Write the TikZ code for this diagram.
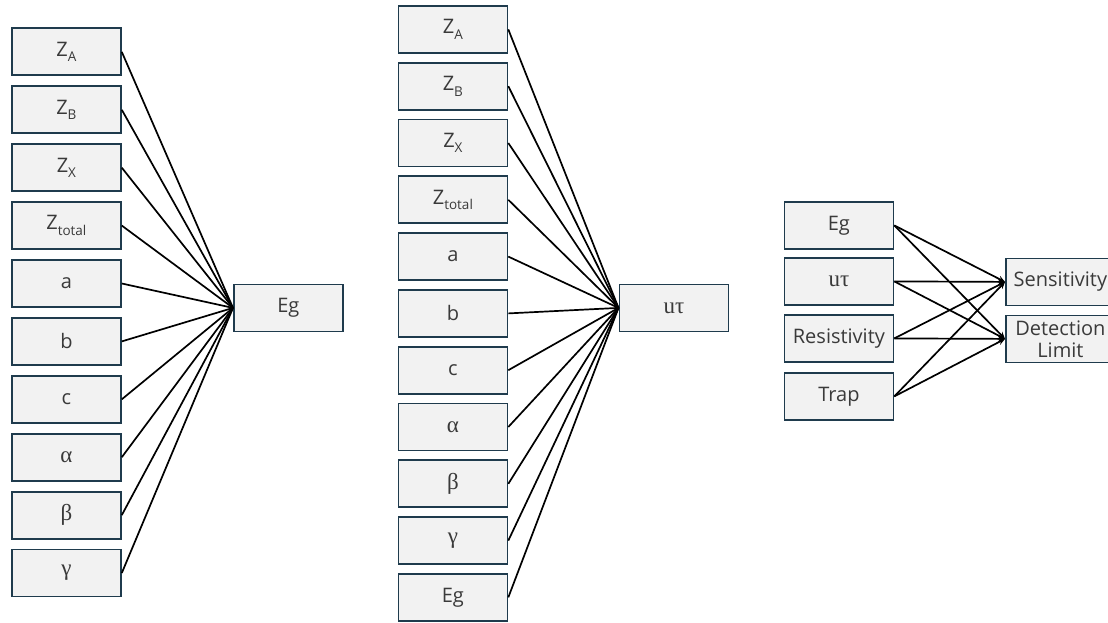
\documentclass[tikz,border=0pt]{standalone}
\usepackage{fontspec}
\setmainfont{Open Sans}
\newfontfamily\grkfont{Liberation Serif}
\usetikzlibrary{arrows.meta}
\definecolor{boxfill}{HTML}{F2F2F2}
\definecolor{boxline}{HTML}{1F3B4D}
\definecolor{txt}{HTML}{3A3A3A}
% lowered index letter used in the Z labels
\newcommand\lowidx[1]{\raisebox{-0.5ex}{\fontsize{13.5}{13.5}\selectfont #1}}
% Greek symbols are set larger, in a serif face
\newcommand\grk[1]{{\fontsize{23}{23}\grkfont\selectfont #1}}
\begin{document}
\begin{tikzpicture}[x=1pt, y=-1pt,
  box/.style={draw=boxline, line width=1.8pt, fill=boxfill,
    minimum width=109pt, minimum height=47pt, inner sep=0pt,
    text=txt, font=\fontsize{20}{22}\selectfont, anchor=north west},
  link/.style={line width=1.7pt, black},
  arr/.style={link, -{Stealth[length=7pt,width=6pt]}}]
\useasboundingbox (0,0) rectangle (1108,623);
\clip (0,0) rectangle (1108,623);

% ---- first fan: inputs of Eg ----
\foreach \lab [count=\i from 0] in {Z\lowidx{A}, Z\lowidx{B}, Z\lowidx{X}, Z\lowidx{total},
    a, b, c, \grk{α}, \grk{β}, \grk{γ}}
  \node[box] (L\i) at (11, 27.5+57.9*\i) {\lab};
\node[box] (Eg1) at (233, 283.5) {Eg};
\foreach \i in {0,...,9}
  \draw[link] (L\i.east) -- (Eg1.west);

% ---- second fan: inputs of ut ----
\foreach \lab [count=\i from 0] in {Z\lowidx{A}, Z\lowidx{B}, Z\lowidx{X}, Z\lowidx{total},
    a, b, c, \grk{α}, \grk{β}, \grk{γ}, Eg}
  \node[box] (M\i) at (397.5, 5+56.8*\i) {\lab};
\node[box] (ut) at (618.5, 283.5) {\grk{uτ}};
\foreach \i in {0,...,10}
  \draw[link] (M\i.east) -- (ut.west);

% ---- third block: properties to performance ----
\node[box] (R0) at (783.5, 201) {Eg};
\node[box] (R1) at (783.5, 257) {\grk{uτ}};
\node[box] (R2) at (783.5, 314) {Resistivity};
\node[box] (R3) at (783.5, 372) {Trap};
\node[box] (sens) at (1005, 257.5) {Sensitivity};
\node[box, align=center, font=\fontsize{20}{22}\selectfont] (det) at (1005, 314.5) {Detection\\Limit};
\foreach \i in {0,...,3} {
  \draw[arr] (R\i.east) -- (sens.west);
  \draw[arr] (R\i.east) -- (det.west);
}
\end{tikzpicture}
\end{document}
